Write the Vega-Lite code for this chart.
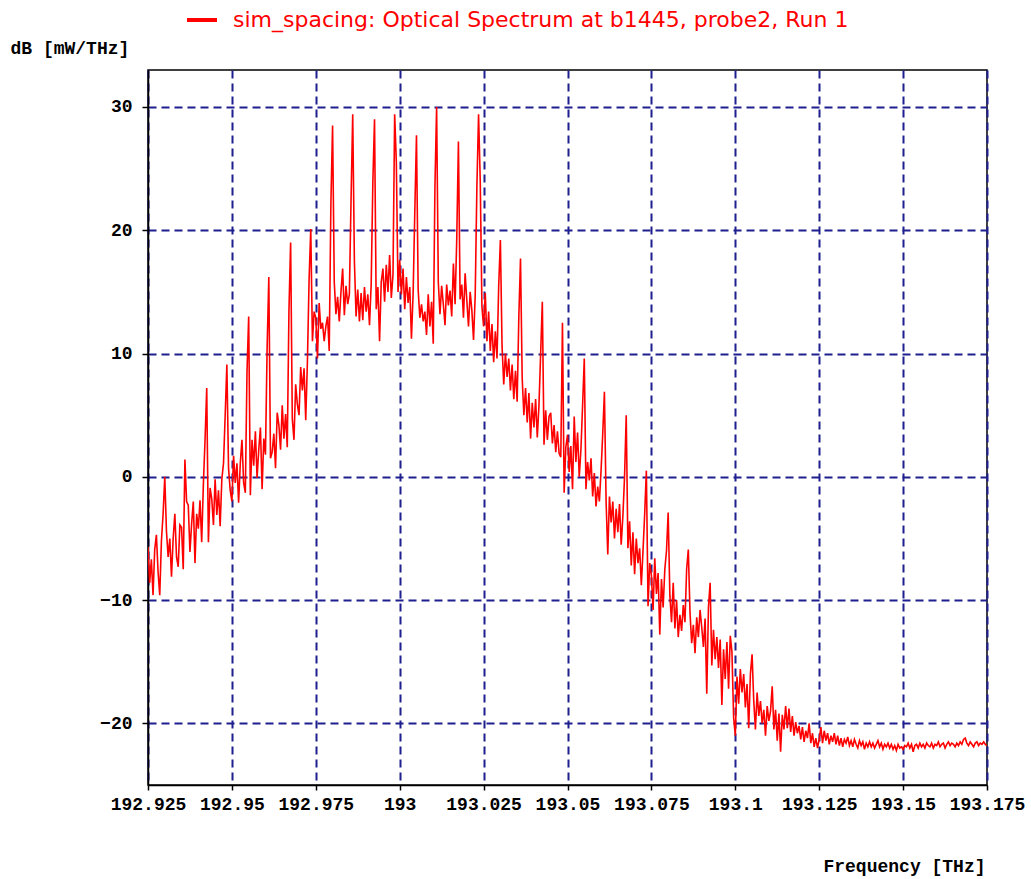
{
"$schema": "https://vega.github.io/schema/vega-lite/v6.json",
"width": 839, "height": 715,
"autosize": "none",
"padding": {"left": 148, "top": 70, "right": 44, "bottom": 94},
"background": "white",
"config": {"view": {"stroke": "#000000", "strokeWidth": 1.5}},
"data": {"values": [
{"f":192.9250,"p":-5.7},{"f":192.9255,"p":-8.6},{"f":192.9260,"p":-6.7},{"f":192.9265,"p":-9.6},{"f":192.9270,"p":-5.9},{"f":192.9275,"p":-4.7},{"f":192.9280,"p":-7.7},{"f":192.9285,"p":-9.6},{"f":192.9290,"p":-5.2},{"f":192.9295,"p":-3.0},
{"f":192.9300,"p":0.0},{"f":192.9305,"p":-4.4},{"f":192.9310,"p":-6.5},{"f":192.9315,"p":-5.0},{"f":192.9320,"p":-8.1},{"f":192.9325,"p":-5.0},{"f":192.9330,"p":-3.0},{"f":192.9335,"p":-6.5},{"f":192.9340,"p":-7.3},{"f":192.9345,"p":-3.9},
{"f":192.9350,"p":-4.1},{"f":192.9355,"p":-7.5},{"f":192.9360,"p":1.4},{"f":192.9365,"p":-2.0},{"f":192.9370,"p":-2.3},{"f":192.9375,"p":-6.1},{"f":192.9380,"p":-3.8},{"f":192.9385,"p":-2.0},{"f":192.9390,"p":-7.0},{"f":192.9395,"p":-3.0},
{"f":192.9400,"p":-4.2},{"f":192.9405,"p":-1.9},{"f":192.9410,"p":-5.3},{"f":192.9415,"p":-0.6},{"f":192.9420,"p":3.0},{"f":192.9425,"p":7.2},{"f":192.9430,"p":-5.3},{"f":192.9435,"p":-0.9},{"f":192.9440,"p":-1.8},{"f":192.9445,"p":-3.9},
{"f":192.9450,"p":-0.2},{"f":192.9455,"p":-3.1},{"f":192.9460,"p":-1.1},{"f":192.9465,"p":-4.0},{"f":192.9470,"p":-0.2},{"f":192.9475,"p":1.1},{"f":192.9480,"p":5.0},{"f":192.9485,"p":9.1},{"f":192.9490,"p":0.7},{"f":192.9495,"p":-1.1},
{"f":192.9500,"p":-2.0},{"f":192.9505,"p":1.7},{"f":192.9510,"p":-0.5},{"f":192.9515,"p":1.1},{"f":192.9520,"p":-2.1},{"f":192.9525,"p":1.1},{"f":192.9530,"p":3.0},{"f":192.9535,"p":-0.5},{"f":192.9540,"p":-1.3},{"f":192.9545,"p":8.5},
{"f":192.9550,"p":13.0},{"f":192.9555,"p":-1.5},{"f":192.9560,"p":3.0},{"f":192.9565,"p":0.9},{"f":192.9570,"p":3.7},{"f":192.9575,"p":-0.1},{"f":192.9580,"p":2.2},{"f":192.9585,"p":4.0},{"f":192.9590,"p":-1.0},{"f":192.9595,"p":3.1},
{"f":192.9600,"p":1.8},{"f":192.9605,"p":10.5},{"f":192.9610,"p":16.2},{"f":192.9615,"p":1.5},{"f":192.9620,"p":2.0},{"f":192.9625,"p":3.5},{"f":192.9630,"p":0.7},{"f":192.9635,"p":5.2},{"f":192.9640,"p":4.2},{"f":192.9645,"p":2.2},
{"f":192.9650,"p":5.8},{"f":192.9655,"p":3.1},{"f":192.9660,"p":5.1},{"f":192.9665,"p":2.4},{"f":192.9670,"p":13.5},{"f":192.9675,"p":19.0},{"f":192.9680,"p":4.7},{"f":192.9685,"p":3.0},{"f":192.9690,"p":7.5},{"f":192.9695,"p":5.9},
{"f":192.9700,"p":5.0},{"f":192.9705,"p":8.9},{"f":192.9710,"p":7.0},{"f":192.9715,"p":8.8},{"f":192.9720,"p":4.6},{"f":192.9725,"p":9.3},{"f":192.9730,"p":16.0},{"f":192.9735,"p":20.1},{"f":192.9740,"p":11.0},{"f":192.9745,"p":13.4},
{"f":192.9750,"p":12.9},{"f":192.9755,"p":9.6},{"f":192.9760,"p":14.1},{"f":192.9765,"p":12.0},{"f":192.9770,"p":12.5},{"f":192.9775,"p":11.0},{"f":192.9780,"p":12.2},{"f":192.9785,"p":13.0},{"f":192.9790,"p":10.2},{"f":192.9795,"p":22.2},
{"f":192.9800,"p":28.5},{"f":192.9805,"p":15.8},{"f":192.9810,"p":13.2},{"f":192.9815,"p":14.6},{"f":192.9820,"p":12.6},{"f":192.9825,"p":15.0},{"f":192.9830,"p":16.9},{"f":192.9835,"p":13.1},{"f":192.9840,"p":15.5},{"f":192.9845,"p":14.0},
{"f":192.9850,"p":14.8},{"f":192.9855,"p":22.4},{"f":192.9860,"p":29.4},{"f":192.9865,"p":17.5},{"f":192.9870,"p":13.0},{"f":192.9875,"p":15.2},{"f":192.9880,"p":12.6},{"f":192.9885,"p":14.9},{"f":192.9890,"p":12.7},{"f":192.9895,"p":15.4},
{"f":192.9900,"p":13.4},{"f":192.9905,"p":14.8},{"f":192.9910,"p":12.3},{"f":192.9915,"p":15.6},{"f":192.9920,"p":23.9},{"f":192.9925,"p":29.0},{"f":192.9930,"p":13.6},{"f":192.9935,"p":15.4},{"f":192.9940,"p":11.0},{"f":192.9945,"p":15.8},
{"f":192.9950,"p":16.9},{"f":192.9955,"p":14.2},{"f":192.9960,"p":17.2},{"f":192.9965,"p":15.0},{"f":192.9970,"p":18.0},{"f":192.9975,"p":14.5},{"f":192.9980,"p":16.4},{"f":192.9985,"p":29.4},{"f":192.9990,"p":25.5},{"f":192.9995,"p":15.0},
{"f":193.0000,"p":17.6},{"f":193.0005,"p":14.8},{"f":193.0010,"p":16.9},{"f":193.0015,"p":13.6},{"f":193.0020,"p":16.2},{"f":193.0025,"p":14.1},{"f":193.0030,"p":15.4},{"f":193.0035,"p":11.2},{"f":193.0040,"p":14.9},{"f":193.0045,"p":21.5},
{"f":193.0050,"p":27.7},{"f":193.0055,"p":15.2},{"f":193.0060,"p":12.9},{"f":193.0065,"p":14.0},{"f":193.0070,"p":12.6},{"f":193.0075,"p":13.4},{"f":193.0080,"p":11.5},{"f":193.0085,"p":14.8},{"f":193.0090,"p":12.2},{"f":193.0095,"p":14.2},
{"f":193.0100,"p":10.8},{"f":193.0105,"p":23.5},{"f":193.0110,"p":30.0},{"f":193.0115,"p":15.8},{"f":193.0120,"p":13.2},{"f":193.0125,"p":15.5},{"f":193.0130,"p":14.0},{"f":193.0135,"p":12.3},{"f":193.0140,"p":15.6},{"f":193.0145,"p":13.9},
{"f":193.0150,"p":15.1},{"f":193.0155,"p":13.0},{"f":193.0160,"p":17.3},{"f":193.0165,"p":14.0},{"f":193.0170,"p":19.3},{"f":193.0175,"p":27.2},{"f":193.0180,"p":14.4},{"f":193.0185,"p":15.6},{"f":193.0190,"p":12.9},{"f":193.0195,"p":16.5},
{"f":193.0200,"p":14.3},{"f":193.0205,"p":12.2},{"f":193.0210,"p":15.0},{"f":193.0215,"p":13.5},{"f":193.0220,"p":11.1},{"f":193.0225,"p":14.7},{"f":193.0230,"p":23.5},{"f":193.0235,"p":29.4},{"f":193.0240,"p":24.0},{"f":193.0245,"p":13.8},
{"f":193.0250,"p":12.2},{"f":193.0255,"p":14.9},{"f":193.0260,"p":11.0},{"f":193.0265,"p":13.4},{"f":193.0270,"p":10.2},{"f":193.0275,"p":12.4},{"f":193.0280,"p":9.3},{"f":193.0285,"p":11.8},{"f":193.0290,"p":9.6},{"f":193.0295,"p":15.5},
{"f":193.0300,"p":19.2},{"f":193.0305,"p":10.6},{"f":193.0310,"p":7.5},{"f":193.0315,"p":10.0},{"f":193.0320,"p":8.1},{"f":193.0325,"p":9.6},{"f":193.0330,"p":7.0},{"f":193.0335,"p":9.1},{"f":193.0340,"p":6.3},{"f":193.0345,"p":8.6},
{"f":193.0350,"p":6.1},{"f":193.0355,"p":13.0},{"f":193.0360,"p":17.7},{"f":193.0365,"p":8.0},{"f":193.0370,"p":5.0},{"f":193.0375,"p":7.2},{"f":193.0380,"p":4.4},{"f":193.0385,"p":6.8},{"f":193.0390,"p":3.1},{"f":193.0395,"p":6.0},
{"f":193.0400,"p":4.0},{"f":193.0405,"p":6.3},{"f":193.0410,"p":3.2},{"f":193.0415,"p":5.8},{"f":193.0420,"p":10.0},{"f":193.0425,"p":14.2},{"f":193.0430,"p":2.6},{"f":193.0435,"p":5.4},{"f":193.0440,"p":3.0},{"f":193.0445,"p":4.9},
{"f":193.0450,"p":5.2},{"f":193.0455,"p":2.7},{"f":193.0460,"p":4.2},{"f":193.0465,"p":2.0},{"f":193.0470,"p":3.7},{"f":193.0475,"p":1.9},{"f":193.0480,"p":1.6},{"f":193.0485,"p":12.5},{"f":193.0490,"p":-1.3},{"f":193.0495,"p":2.4},
{"f":193.0500,"p":3.4},{"f":193.0505,"p":0.4},{"f":193.0510,"p":2.5},{"f":193.0515,"p":-1.0},{"f":193.0520,"p":4.9},{"f":193.0525,"p":1.2},{"f":193.0530,"p":3.6},{"f":193.0535,"p":0.0},{"f":193.0540,"p":2.2},{"f":193.0545,"p":5.8},
{"f":193.0550,"p":9.6},{"f":193.0555,"p":-1.0},{"f":193.0560,"p":1.2},{"f":193.0565,"p":-0.3},{"f":193.0570,"p":1.5},{"f":193.0575,"p":-1.6},{"f":193.0580,"p":0.3},{"f":193.0585,"p":-2.4},{"f":193.0590,"p":-0.8},{"f":193.0595,"p":-2.0},
{"f":193.0600,"p":0.5},{"f":193.0605,"p":3.5},{"f":193.0610,"p":6.9},{"f":193.0615,"p":-2.0},{"f":193.0620,"p":-6.3},{"f":193.0625,"p":-1.6},{"f":193.0630,"p":-3.7},{"f":193.0635,"p":-2.0},{"f":193.0640,"p":-5.0},{"f":193.0645,"p":-2.6},
{"f":193.0650,"p":-4.5},{"f":193.0655,"p":-2.2},{"f":193.0660,"p":-5.5},{"f":193.0665,"p":-3.2},{"f":193.0670,"p":0.0},{"f":193.0675,"p":5.0},{"f":193.0680,"p":-5.8},{"f":193.0685,"p":-3.6},{"f":193.0690,"p":-7.2},{"f":193.0695,"p":-4.5},
{"f":193.0700,"p":-7.9},{"f":193.0705,"p":-5.0},{"f":193.0710,"p":-7.0},{"f":193.0715,"p":-5.8},{"f":193.0720,"p":-8.8},{"f":193.0725,"p":-6.0},{"f":193.0730,"p":-3.0},{"f":193.0735,"p":0.5},{"f":193.0740,"p":-10.5},{"f":193.0745,"p":-7.0},
{"f":193.0750,"p":-8.0},{"f":193.0755,"p":-10.8},{"f":193.0760,"p":-6.6},{"f":193.0765,"p":-9.5},{"f":193.0770,"p":-7.8},{"f":193.0775,"p":-12.8},{"f":193.0780,"p":-8.3},{"f":193.0785,"p":-10.6},{"f":193.0790,"p":-7.5},{"f":193.0795,"p":-6.0},
{"f":193.0800,"p":-2.9},{"f":193.0805,"p":-9.6},{"f":193.0810,"p":-11.8},{"f":193.0815,"p":-8.6},{"f":193.0820,"p":-12.3},{"f":193.0825,"p":-10.0},{"f":193.0830,"p":-13.0},{"f":193.0835,"p":-11.2},{"f":193.0840,"p":-12.5},{"f":193.0845,"p":-10.4},
{"f":193.0850,"p":-11.8},{"f":193.0855,"p":-7.5},{"f":193.0860,"p":-5.9},{"f":193.0865,"p":-11.0},{"f":193.0870,"p":-13.5},{"f":193.0875,"p":-12.0},{"f":193.0880,"p":-14.3},{"f":193.0885,"p":-11.4},{"f":193.0890,"p":-13.0},{"f":193.0895,"p":-10.8},
{"f":193.0900,"p":-12.2},{"f":193.0905,"p":-13.8},{"f":193.0910,"p":-11.5},{"f":193.0915,"p":-17.6},{"f":193.0920,"p":-10.6},{"f":193.0925,"p":-8.6},{"f":193.0930,"p":-15.3},{"f":193.0935,"p":-12.4},{"f":193.0940,"p":-14.8},{"f":193.0945,"p":-13.0},
{"f":193.0950,"p":-15.5},{"f":193.0955,"p":-13.2},{"f":193.0960,"p":-18.5},{"f":193.0965,"p":-14.0},{"f":193.0970,"p":-16.4},{"f":193.0975,"p":-13.4},{"f":193.0980,"p":-17.2},{"f":193.0985,"p":-12.9},{"f":193.0990,"p":-14.2},{"f":193.0995,"p":-19.5},
{"f":193.1000,"p":-21.0},{"f":193.1005,"p":-16.2},{"f":193.1010,"p":-18.4},{"f":193.1015,"p":-15.6},{"f":193.1020,"p":-17.5},{"f":193.1025,"p":-16.0},{"f":193.1030,"p":-18.7},{"f":193.1035,"p":-16.8},{"f":193.1040,"p":-20.4},{"f":193.1045,"p":-16.0},
{"f":193.1050,"p":-14.4},{"f":193.1055,"p":-18.2},{"f":193.1060,"p":-20.5},{"f":193.1065,"p":-17.5},{"f":193.1070,"p":-19.4},{"f":193.1075,"p":-18.2},{"f":193.1080,"p":-20.0},{"f":193.1085,"p":-18.9},{"f":193.1090,"p":-21.0},{"f":193.1095,"p":-18.6},
{"f":193.1100,"p":-19.8},{"f":193.1105,"p":-19.0},{"f":193.1110,"p":-17.0},{"f":193.1115,"p":-20.5},{"f":193.1120,"p":-18.9},{"f":193.1125,"p":-21.4},{"f":193.1130,"p":-19.2},{"f":193.1135,"p":-22.3},{"f":193.1140,"p":-19.3},{"f":193.1145,"p":-20.5},
{"f":193.1150,"p":-18.6},{"f":193.1155,"p":-20.4},{"f":193.1160,"p":-18.8},{"f":193.1165,"p":-20.7},{"f":193.1170,"p":-19.4},{"f":193.1175,"p":-21.0},{"f":193.1180,"p":-19.9},{"f":193.1185,"p":-20.8},{"f":193.1190,"p":-20.2},{"f":193.1195,"p":-21.3},
{"f":193.1200,"p":-20.3},{"f":193.1205,"p":-21.5},{"f":193.1210,"p":-20.6},{"f":193.1215,"p":-21.2},{"f":193.1220,"p":-20.0},{"f":193.1225,"p":-21.6},{"f":193.1230,"p":-20.8},{"f":193.1235,"p":-21.9},{"f":193.1240,"p":-21.2},{"f":193.1245,"p":-22.0},
{"f":193.1250,"p":-21.3},{"f":193.1255,"p":-20.3},{"f":193.1260,"p":-21.6},{"f":193.1265,"p":-20.6},{"f":193.1270,"p":-21.4},{"f":193.1275,"p":-20.8},{"f":193.1280,"p":-21.7},{"f":193.1285,"p":-21.0},{"f":193.1290,"p":-21.5},{"f":193.1295,"p":-20.8},
{"f":193.1300,"p":-21.7},{"f":193.1305,"p":-21.0},{"f":193.1310,"p":-21.8},{"f":193.1315,"p":-21.2},{"f":193.1320,"p":-21.9},{"f":193.1325,"p":-21.3},{"f":193.1330,"p":-21.6},{"f":193.1335,"p":-21.1},{"f":193.1340,"p":-21.8},{"f":193.1345,"p":-21.4},
{"f":193.1350,"p":-21.9},{"f":193.1355,"p":-21.3},{"f":193.1360,"p":-21.7},{"f":193.1365,"p":-22.0},{"f":193.1370,"p":-21.4},{"f":193.1375,"p":-21.8},{"f":193.1380,"p":-21.5},{"f":193.1385,"p":-22.1},{"f":193.1390,"p":-21.6},{"f":193.1395,"p":-21.9},
{"f":193.1400,"p":-21.5},{"f":193.1405,"p":-21.9},{"f":193.1410,"p":-21.6},{"f":193.1415,"p":-22.0},{"f":193.1420,"p":-21.7},{"f":193.1425,"p":-21.4},{"f":193.1430,"p":-21.9},{"f":193.1435,"p":-21.6},{"f":193.1440,"p":-22.1},{"f":193.1445,"p":-21.7},
{"f":193.1450,"p":-21.9},{"f":193.1455,"p":-21.6},{"f":193.1460,"p":-22.0},{"f":193.1465,"p":-21.7},{"f":193.1470,"p":-22.1},{"f":193.1475,"p":-21.8},{"f":193.1480,"p":-22.2},{"f":193.1485,"p":-21.7},{"f":193.1490,"p":-22.0},{"f":193.1495,"p":-21.9},
{"f":193.1500,"p":-22.1},{"f":193.1505,"p":-21.8},{"f":193.1510,"p":-21.9},{"f":193.1515,"p":-21.6},{"f":193.1520,"p":-22.0},{"f":193.1525,"p":-21.7},{"f":193.1530,"p":-22.3},{"f":193.1535,"p":-21.8},{"f":193.1540,"p":-21.7},{"f":193.1545,"p":-22.0},
{"f":193.1550,"p":-21.6},{"f":193.1555,"p":-21.9},{"f":193.1560,"p":-21.7},{"f":193.1565,"p":-22.0},{"f":193.1570,"p":-21.6},{"f":193.1575,"p":-21.8},{"f":193.1580,"p":-21.9},{"f":193.1585,"p":-21.6},{"f":193.1590,"p":-22.0},{"f":193.1595,"p":-21.7},
{"f":193.1600,"p":-21.8},{"f":193.1605,"p":-21.5},{"f":193.1610,"p":-21.9},{"f":193.1615,"p":-21.7},{"f":193.1620,"p":-21.6},{"f":193.1625,"p":-22.0},{"f":193.1630,"p":-21.7},{"f":193.1635,"p":-21.5},{"f":193.1640,"p":-21.8},{"f":193.1645,"p":-21.6},
{"f":193.1650,"p":-21.7},{"f":193.1655,"p":-21.9},{"f":193.1660,"p":-21.6},{"f":193.1665,"p":-21.8},{"f":193.1670,"p":-21.5},{"f":193.1675,"p":-21.7},{"f":193.1680,"p":-21.3},{"f":193.1685,"p":-21.2},{"f":193.1690,"p":-21.6},{"f":193.1695,"p":-21.8},
{"f":193.1700,"p":-21.5},{"f":193.1705,"p":-21.7},{"f":193.1710,"p":-21.9},{"f":193.1715,"p":-21.6},{"f":193.1720,"p":-21.5},{"f":193.1725,"p":-21.8},{"f":193.1730,"p":-21.6},{"f":193.1735,"p":-21.7},{"f":193.1740,"p":-21.5},{"f":193.1745,"p":-21.7},
{"f":193.1750,"p":-21.8}
]},
"mark": {"type": "line", "strokeWidth": 1.6, "clip": true},
"encoding": {
  "x": {"field": "f", "type": "quantitative",
    "scale": {"domain": [192.925, 193.175], "nice": false, "zero": false},
    "axis": {"values": [192.925, 192.95, 192.975, 193, 193.025, 193.05, 193.075, 193.1, 193.125, 193.15, 193.175],
      "labelExpr": "'' + datum.value", "labelOverlap": false, "labelFlush": false, "labelBound": false,
      "grid": true, "gridColor": "#1f1f8f", "gridDash": [8, 5], "gridWidth": 2, "gridOpacity": 1,
      "tickSize": 5, "tickColor": "#000000", "tickWidth": 1.5,
      "domainColor": "#000000", "domainWidth": 1.5,
      "labelFont": "Liberation Mono", "labelFontSize": 18, "labelFontWeight": "bold", "labelColor": "#000000", "labelPadding": 5,
      "title": "Frequency [THz]", "titleFont": "Liberation Mono", "titleFontSize": 18, "titleFontWeight": "bold", "titleColor": "#000000",
      "titleX": 837, "titleY": 81, "titleAlign": "right", "titleBaseline": "middle", "titleAnchor": null}},
  "y": {"field": "p", "type": "quantitative",
    "scale": {"domain": [-25, 33], "nice": false, "zero": false},
    "axis": {"values": [-20, -10, 0, 10, 20, 30], "format": "d",
      "grid": true, "gridColor": "#1f1f8f", "gridDash": [8, 5], "gridWidth": 2, "gridOpacity": 1,
      "tickSize": 6, "tickColor": "#000000", "tickWidth": 1.5,
      "domainColor": "#000000", "domainWidth": 1.5,
      "labelFont": "Liberation Mono", "labelFontSize": 18, "labelFontWeight": "bold", "labelColor": "#000000", "labelPadding": 10,
      "title": "dB [mW/THz]", "titleFont": "Liberation Mono", "titleFontSize": 18, "titleFontWeight": "bold", "titleColor": "#000000",
      "titleAngle": 0, "titleX": -138, "titleY": -22, "titleAlign": "left", "titleBaseline": "middle"}},
  "color": {"datum": "sim_spacing: Optical Spectrum at b1445, probe2, Run 1",
    "scale": {"range": ["#ff0000"]},
    "legend": {"orient": "none", "legendX": 37, "legendY": -67, "title": null,
      "symbolType": "stroke", "symbolSize": 900, "symbolStrokeWidth": 4, "symbolStrokeColor": "#ff0000",
      "labelFont": "DejaVu Sans", "labelFontSize": 22, "labelColor": "#ff0000", "labelLimit": 900, "labelOffset": 14}}
}
}
